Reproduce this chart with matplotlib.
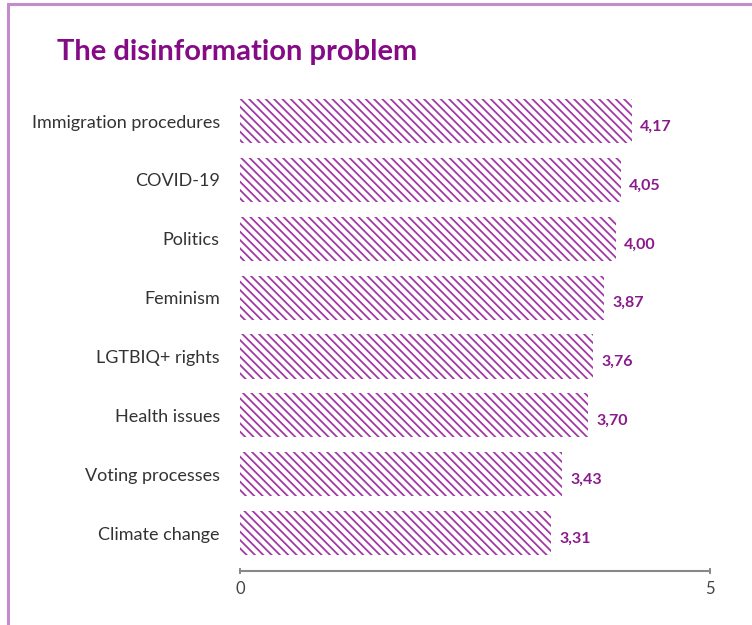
import matplotlib.pyplot as plt
from matplotlib.patches import Rectangle

# data
topics = ["Immigration procedures", "COVID-19", "Politics", "Feminism",
          "LGTBIQ+ rights", "Health issues", "Voting processes", "Climate change"]
scores = [4.17, 4.05, 4.00, 3.87, 3.76, 3.70, 3.43, 3.31]
xticks = [0, 5]

purple = "#a03aa4"
label_purple = "#8a1a8c"
title_purple = "#850a85"

plt.rcParams["font.family"] = ["Lato", "DejaVu Sans"]
plt.rcParams["hatch.linewidth"] = 1.3

W, H = 752, 625
fig = plt.figure(figsize=(W / 100, H / 100), dpi=100)
ax = fig.add_axes([240 / W, (H - 571) / H, (710 - 240) / W, (571 - 99) / H])

ypos = list(range(len(topics)))
ax.barh(ypos, scores, height=0.75, color="white", edgecolor=purple,
        linewidth=0, hatch="\\\\\\\\")
for y, v in zip(ypos, scores):
    ax.annotate(f"{v:.2f}".replace(".", ","), (v, y), xytext=(6, -4),
                textcoords="offset points", va="center", ha="left",
                fontsize=11.5, fontweight="bold", color=label_purple)

ax.set_xlim(0, 5)
ax.set_ylim(7.645, -0.375)
ax.set_yticks(ypos)
ax.set_yticklabels(topics, fontsize=13, color="#333333")
ax.tick_params(axis="y", length=0, pad=14.5)
ax.set_xticks(xticks)
ax.set_xticklabels([str(t) for t in xticks], fontsize=12, color="#444444")
ax.tick_params(axis="x", length=5, width=1.2, color="#777777", direction="inout", pad=5)
for s in ["top", "right", "left"]:
    ax.spines[s].set_visible(False)
ax.spines["bottom"].set_color("#888888")
ax.spines["bottom"].set_linewidth(1.5)

fig.text(57 / W, 1 - 52 / H, "The disinformation problem", fontsize=21,
         fontweight="bold", color=title_purple, va="center", ha="left")

# frame around the card (top and left edges visible)
fig.patches.append(Rectangle((8 / W, -0.1), 1.2, 1 - 4 / H + 0.1,
                             transform=fig.transFigure, fill=False,
                             edgecolor="#c48ccc", linewidth=2.2))

fig.savefig("out.png", dpi=100)
